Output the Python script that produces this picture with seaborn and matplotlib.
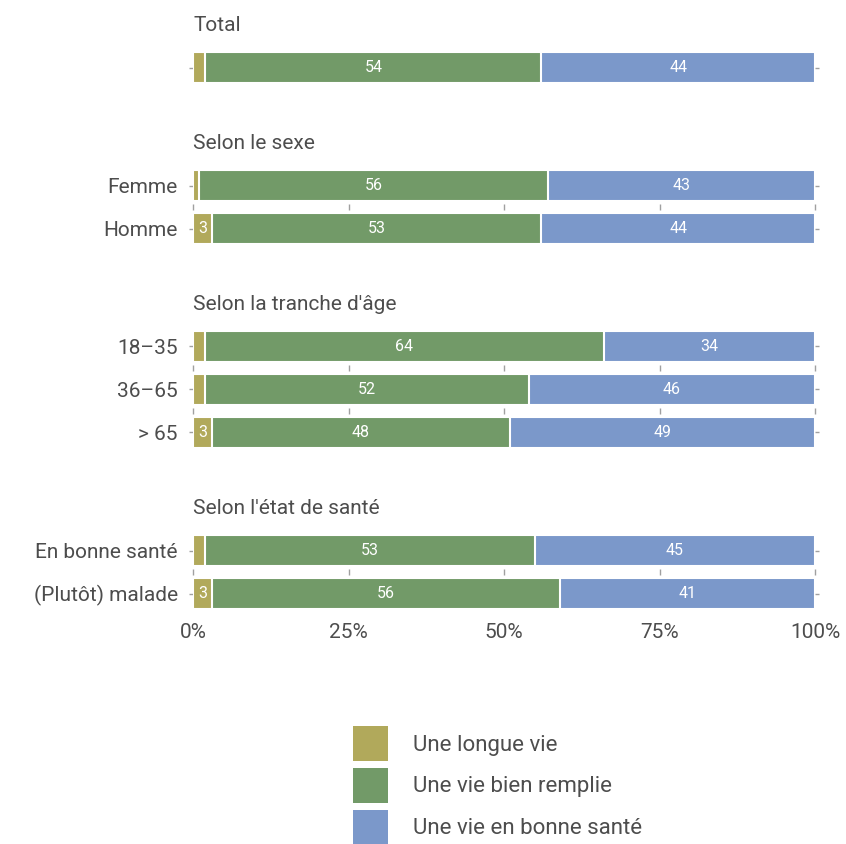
import numpy as np
import pandas as pd
import matplotlib
matplotlib.use("Agg")
import matplotlib.pyplot as plt
from matplotlib.patches import Patch
import seaborn as sns

# ---------------- data ----------------
groups = ["Total", "Selon le sexe", "Selon la tranche d'âge", "Selon l'état de santé"]
group_rows = [
    ["Total"],
    ["Femme", "Homme"],
    ["18–35", "36–65", "> 65"],
    ["En bonne santé", "(Plutôt) malade"],
]
series = ["Une longue vie", "Une vie bien remplie", "Une vie en bonne santé"]
longue_vie = [2, 1, 3, 2, 2, 3, 2, 3]
bien_remplie = [54, 56, 53, 64, 52, 48, 53, 56]
bonne_sante = [44, 43, 44, 34, 46, 49, 45, 41]
x_ticks = [0, 25, 50, 75, 100]
x_labels = ["0%", "25%", "50%", "75%", "100%"]

colors = ["#B1A95B", "#729A68", "#7B98CA"]
text_col = "#4D4D4D"
tick_col = "#A0A0A0"

sns.set_theme(style="white")
plt.rcParams["font.family"] = ["Roboto", "DejaVu Sans"]

all_rows = [r for g in group_rows for r in g]
df = pd.DataFrame({
    "cat": all_rows,
    "a": longue_vie,
    "b": bien_remplie,
    "c": bonne_sante,
})
df["cum_a"] = df["a"]
df["cum_b"] = df["a"] + df["b"]
df["cum_c"] = df["a"] + df["b"] + df["c"]

# ---------------- layout (pixels) ----------------
W, H = 846, 844
fig = plt.figure(figsize=(W / 100, H / 100), dpi=100)
left_px, right_px = 193, 815
row_h, gap, top = 43, 75, 46

axes = []
y_top = top
for g, rows in zip(groups, group_rows):
    h = row_h * len(rows)
    ax = fig.add_axes([left_px / W, 1 - (y_top + h) / H, (right_px - left_px) / W, h / H])
    axes.append(ax)
    sub = df[df["cat"].isin(rows)].copy()

    # stacked bars by overlaying cumulative totals
    for col, c in zip(["cum_c", "cum_b", "cum_a"], colors[::-1]):
        sns.barplot(data=sub, x=col, y="cat", order=rows, color=c, orient="h",
                    width=0.72, edgecolor="white", linewidth=1.5, ax=ax,
                    saturation=1)

    # value labels
    for i, (_, r) in enumerate(sub.iterrows()):
        starts = [0, r["cum_a"], r["cum_b"]]
        for s, v in zip(starts, [r["a"], r["b"], r["c"]]):
            if v >= 3:
                ax.text(s + v / 2, i, f"{v}", ha="center", va="center",
                        color="white", fontsize=11.5)

    # small x tick marks between rows
    for i in range(len(rows) - 1):
        ax.vlines(x_ticks, i + 0.5 - 0.06, i + 0.5 + 0.06, color=tick_col,
                  lw=1, clip_on=False)

    ax.set_xlim(0, 100)
    ax.set_ylim(len(rows) - 0.5, -0.5)
    ax.set_xlabel("")
    ax.set_ylabel("")
    sns.despine(ax=ax, left=True, bottom=True)
    ax.tick_params(axis="y", left=True, right=True, length=3, width=1,
                   color=tick_col, labelsize=15, labelcolor=text_col, pad=8)
    if g == "Total":
        ax.set_yticklabels([""])
    ax.set_title(g, loc="left", fontsize=15, color=text_col, pad=11)
    ax.set_xticks([])
    y_top += h + gap

bottom = axes[-1]
bottom.set_xticks(x_ticks)
bottom.set_xticklabels(x_labels)
bottom.tick_params(axis="x", bottom=True, length=0, labelsize=15,
                   labelcolor=text_col, pad=6)

handles = [Patch(facecolor=c, edgecolor="none") for c in colors]
fig.legend(handles, series, loc="upper left", bbox_to_anchor=(342 / W, 1 - 715 / H),
           frameon=False, fontsize=16, handlelength=1.58, handleheight=2.05,
           labelspacing=0.3, handletextpad=1.13, borderpad=0, labelcolor=text_col)

plt.savefig("out.png", dpi=100)
